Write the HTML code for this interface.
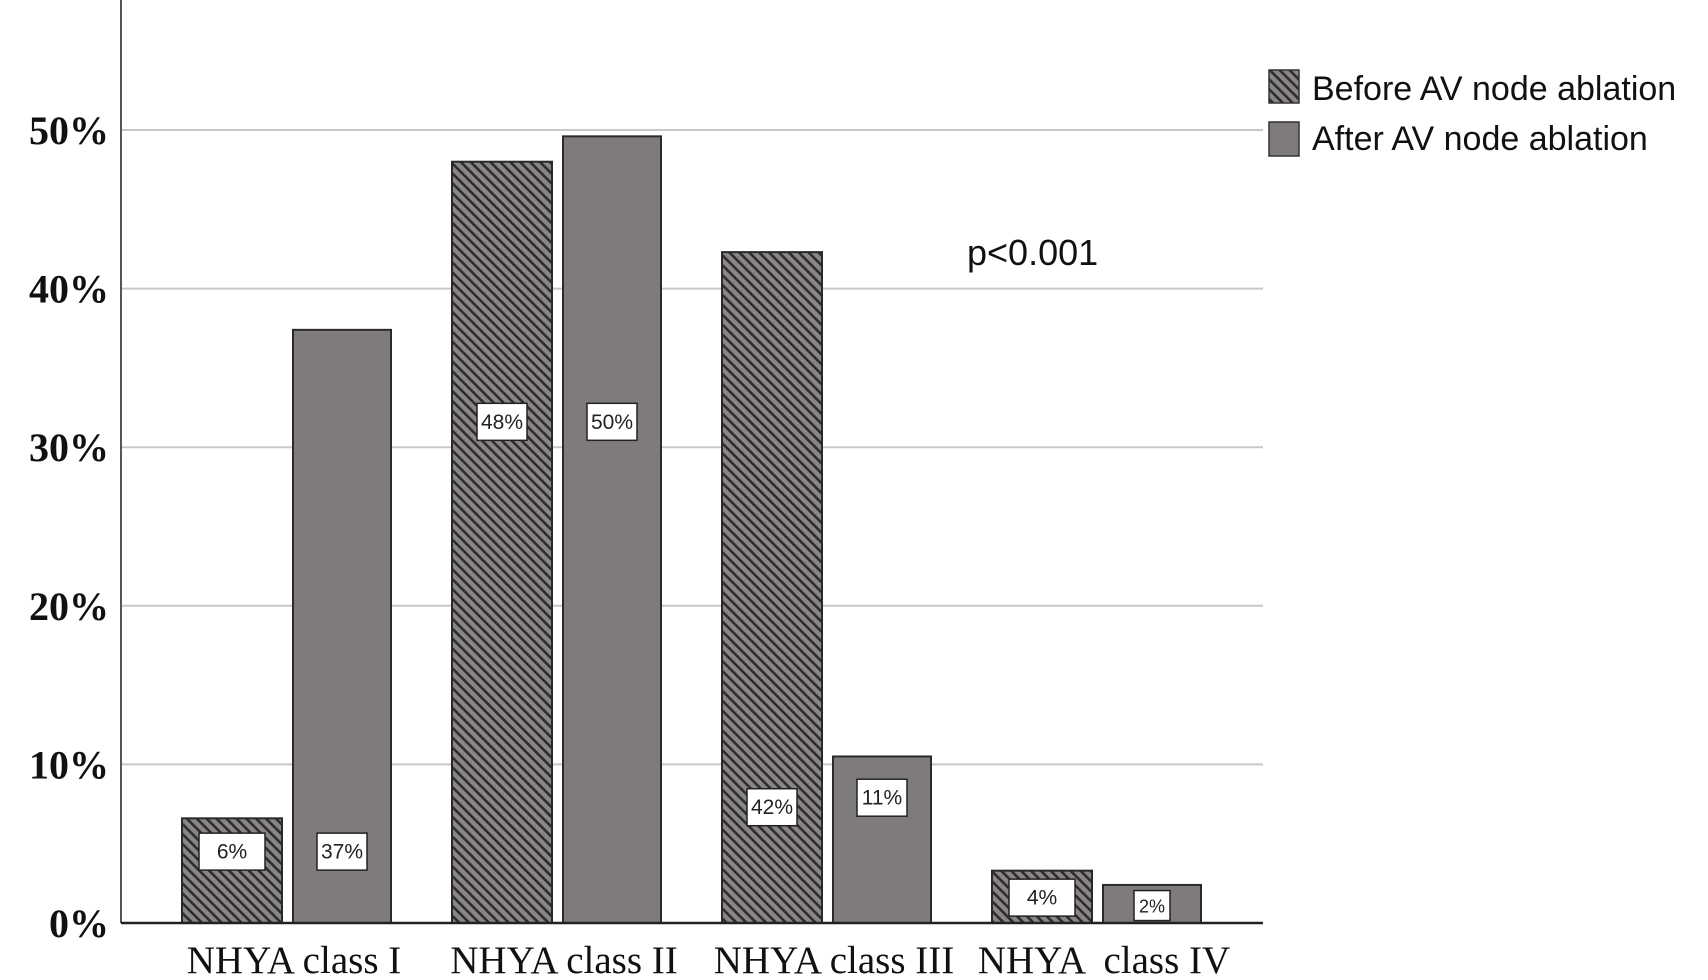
<!DOCTYPE html>
<html><head><meta charset="utf-8"><style>
html,body{margin:0;padding:0;background:#fff;width:1708px;height:980px;overflow:hidden}
svg{display:block}
</style></head><body>
<svg id="chart" width="1708" height="980" xmlns="http://www.w3.org/2000/svg">
<defs>
<pattern id="hatch" patternUnits="userSpaceOnUse" width="7" height="7" patternTransform="rotate(-45)">
<rect width="7" height="7" fill="#8a8687"/>
<rect width="2.6" height="7" fill="#2e2c2d"/>
</pattern>
</defs>
<g id="grid"></g>
<g id="bars"></g>
<g id="axes"></g>
<g>
<rect x="1269" y="70" width="30" height="33" fill="url(#hatch)" stroke="#333" stroke-width="1.5"/>
<text x="1312" y="100" font-family="Liberation Sans, sans-serif" font-size="34" fill="#111">Before AV node ablation</text>
<rect x="1269" y="122" width="30" height="34" fill="#7f7b7c" stroke="#333" stroke-width="1.5"/>
<text x="1312" y="150" font-family="Liberation Sans, sans-serif" font-size="34" fill="#111">After AV node ablation</text>
</g>
<text x="967" y="265" font-family="Liberation Sans, sans-serif" font-size="36" fill="#111">p&lt;0.001</text>
</svg>
<script>
const categories = ["NHYA class I","NHYA class II","NHYA class III","NHYA  class IV"];
const beforeValues = [6.6, 48.0, 42.3, 3.3];
const afterValues = [37.4, 49.6, 10.5, 2.4];
const beforeLabels = ["6%","48%","42%","4%"];
const afterLabels = ["37%","50%","11%","2%"];
const labelValues = [[4.5,4.5],[31.6,31.6],[7.3,7.9],[1.6,1.1]];
const yTicks = [0,10,20,30,40,50];
const yTickLabels = ["0%","10%","20%","30%","40%","50%"];

const NS="http://www.w3.org/2000/svg";
const y0=923, pxPer=15.86, axisX=121, gridEnd=1263;
const yScale=v=>y0-v*pxPer;
const groupStart=i=>182+i*270;
const barW=100, gap=11;
function mk(tag,attrs,parent){const e=document.createElementNS(NS,tag);for(const k in attrs)e.setAttribute(k,attrs[k]);parent.appendChild(e);return e;}
const grid=document.getElementById('grid'), bars=document.getElementById('bars'), axes=document.getElementById('axes');

yTicks.forEach((t,i)=>{
  if(t>0){const l=mk('line',{x1:axisX,x2:gridEnd,y1:yScale(t),y2:yScale(t),stroke:'#c8c8c8','stroke-width':2},grid);
  
  }
  const tx=mk('text',{x:109,y:yScale(t)+14,'text-anchor':'end','font-family':'Liberation Serif, serif','font-weight':'bold','font-size':40,fill:'#111'},axes);
  tx.textContent=yTickLabels[i];
  
  
});

function drawLabel(cx,v,txt,name,small){
  const cy=yScale(v);
  const w=small?36:(txt.length>2?50:66);
  const h=small?30:37;
  const r=mk('rect',{x:cx-w/2,y:cy-h/2,width:w,height:h,fill:'#fff',stroke:'#222','stroke-width':1.5},bars);
  
  
  const t=mk('text',{x:cx,y:cy+7,'text-anchor':'middle','font-family':'Liberation Sans, sans-serif','font-size':small?18:21,fill:'#222'},bars);
  t.textContent=txt;
  
  
}

categories.forEach((c,i)=>{
  const x1=groupStart(i), x2=x1+barW+gap;
  const b=mk('rect',{x:x1,y:yScale(beforeValues[i]),width:barW,height:y0-yScale(beforeValues[i]),fill:'url(#hatch)',stroke:'#2a2a2a','stroke-width':2},bars);
  
  
  const a=mk('rect',{x:x2,y:yScale(afterValues[i]),width:barW-2,height:y0-yScale(afterValues[i]),fill:'#7f7b7c',stroke:'#2a2a2a','stroke-width':2},bars);
  
  
  drawLabel(x1+barW/2,labelValues[i][0],beforeLabels[i],'value-label-before-'+(i+1),false);
  drawLabel(x2+barW/2-1,labelValues[i][1],afterLabels[i],'value-label-after-'+(i+1),i===3);
  const t=mk('text',{x:x1+112,y:973,'text-anchor':'middle','font-family':'Liberation Serif, serif','font-size':39,fill:'#111'},axes);
  t.setAttribute('style','white-space:pre');
  t.textContent=c;
  
  
});

const ya=mk('line',{x1:axisX,x2:axisX,y1:0,y2:y0,stroke:'#555','stroke-width':2},axes);


const xa=mk('line',{x1:axisX,x2:gridEnd,y1:y0,y2:y0,stroke:'#222','stroke-width':2.5},axes);


</script>
</body></html>
